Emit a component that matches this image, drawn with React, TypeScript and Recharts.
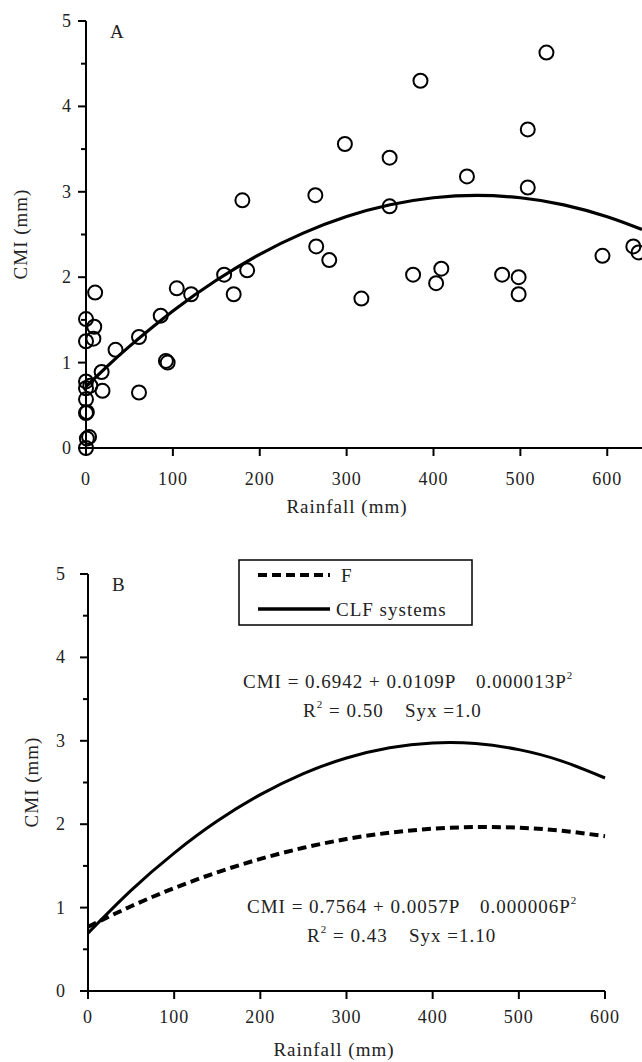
import { ComposedChart, Customized, Line, Scatter, XAxis, YAxis } from 'recharts';

// panel A: observed points
const rainA = [0, 1, 3.5, 0, 1, 0, 0, 0, 5, 18, 19, 0, 8.5, 0, 9.5, 10.5, 34, 61, 61, 86, 92, 94, 104.5, 121, 159, 170, 185.5, 180, 265, 264, 280, 298, 317, 349.5, 349.5, 376.5, 385, 403, 409, 438.5, 479, 498, 498, 508.5, 508.5, 530, 594.5, 630, 636];
const cmiA = [0, 0.11, 0.13, 0.41, 0.42, 0.57, 0.7, 0.78, 0.73, 0.89, 0.67, 1.25, 1.28, 1.51, 1.42, 1.82, 1.15, 1.3, 0.65, 1.55, 1.02, 1.0, 1.87, 1.8, 2.03, 1.8, 2.08, 2.9, 2.36, 2.96, 2.2, 3.56, 1.75, 3.4, 2.83, 2.03, 4.3, 1.93, 2.1, 3.18, 2.03, 2.0, 1.8, 3.73, 3.05, 4.63, 2.25, 2.36, 2.29];

// panel A: fitted curve
const fitAX = [0, 25, 50, 100, 150, 200, 250, 300, 350, 400, 450, 500, 550, 600, 640];
const fitAY = [0.72, 0.962, 1.19, 1.604, 1.964, 2.268, 2.516, 2.71, 2.848, 2.93, 2.958, 2.93, 2.847, 2.708, 2.558];

// panel B: the two fitted curves
const fitBX = [0, 50, 100, 150, 200, 250, 300, 350, 400, 450, 500, 550, 600];
const fY = [0.77, 1.016, 1.234, 1.423, 1.584, 1.717, 1.822, 1.898, 1.946, 1.966, 1.958, 1.921, 1.856];
const clfY = [0.694, 1.207, 1.654, 2.037, 2.354, 2.607, 2.794, 2.917, 2.974, 2.967, 2.894, 2.757, 2.554];

const xTicks = [0, 100, 200, 300, 400, 500, 600];
const yTicks = [0, 0.5, 1, 1.5, 2, 2.5, 3, 3.5, 4, 4.5, 5];

const pointsA = rainA.map((x, i) => ({ x, y: cmiA[i] }));
const curveA = fitAX.map((x, i) => ({ x, y: fitAY[i] }));
const curveF = fitBX.map((x, i) => ({ x, y: fY[i] }));
const curveCLF = fitBX.map((x, i) => ({ x, y: clfY[i] }));

const FONT = '"Liberation Serif", "Times New Roman", serif';
const INK = '#222';
const B_TOP = 530;

const yTick = (axisX: number, gap: number) => (props: any) => {
  const { y, payload } = props;
  const v = payload.value;
  const major = Number.isInteger(v);
  return (
    <g>
      <line x1={axisX - (major ? 8 : 5)} x2={axisX} y1={y} y2={y} stroke="#000" strokeWidth={2} />
      {major && (
        <text x={axisX - gap} y={y + 6} textAnchor="end" fontFamily={FONT} fontSize={18} fill={INK} letterSpacing={1}>
          {v}
        </text>
      )}
    </g>
  );
};

const xTick = (axisY: number, base: number) => (props: any) => {
  const { x, payload } = props;
  return (
    <g>
      <line x1={x} x2={x} y1={axisY} y2={axisY + 8} stroke="#000" strokeWidth={2} />
      <text x={x} y={base} textAnchor="middle" fontFamily={FONT} fontSize={18} fill={INK} letterSpacing={1}>
        {payload.value}
      </text>
    </g>
  );
};

const ring = (p: any) => <circle cx={p.cx} cy={p.cy} r={7} fill="none" stroke="#000" strokeWidth={2} />;

const txt = { fontFamily: FONT, fontSize: 19, fill: INK, letterSpacing: 1 };

const AnnotA = () => (
  <g>
    <text x={110} y={38} {...txt}>A</text>
    <text x={347} y={513} textAnchor="middle" {...txt}>Rainfall (mm)</text>
    <text transform="translate(20,234) rotate(-90)" textAnchor="middle" dominantBaseline="central" {...txt}>CMI (mm)</text>
  </g>
);

const Eq = (props: { x: number; y: number; a: string; b: string; r2: string; syx: string }) => {
  const { x, y, a, b, r2, syx } = props;
  return (
    <g>
      <text x={x} y={y} {...txt}>
        {a}
        <tspan x={x + 233}>{b}</tspan>
        <tspan dy={-9} fontSize={11}>2</tspan>
      </text>
      <text x={x + 60} y={y + 29} {...txt}>
        R<tspan dy={-9} fontSize={11}>2</tspan>
        <tspan dy={9}>{' = ' + r2}</tspan>
        <tspan x={x + 162}>{syx}</tspan>
      </text>
    </g>
  );
};

const AnnotB = () => (
  <g>
    <text x={112} y={591 - B_TOP} {...txt}>B</text>
    <text x={334} y={1056 - B_TOP} textAnchor="middle" {...txt}>Rainfall (mm)</text>
    <text transform={`translate(31,${782 - B_TOP}) rotate(-90)`} textAnchor="middle" dominantBaseline="central" {...txt}>CMI (mm)</text>
    <rect x={239} y={560 - B_TOP} width={233} height={65} fill="#fff" stroke="#000" strokeWidth={1.5} />
    <line x1={258} x2={330} y1={575 - B_TOP} y2={575 - B_TOP} stroke="#000" strokeWidth={4} strokeDasharray="9 5" />
    <line x1={258} x2={330} y1={609 - B_TOP} y2={609 - B_TOP} stroke="#000" strokeWidth={3.5} />
    <text x={341} y={582 - B_TOP} {...txt}>F</text>
    <text x={336} y={616 - B_TOP} {...txt}>CLF systems</text>
    <Eq x={243} y={688 - B_TOP} a="CMI = 0.6942 + 0.0109P" b="0.000013P" r2="0.50" syx="Syx =1.0" />
    <Eq x={247} y={913 - B_TOP} a="CMI = 0.7564 + 0.0057P" b="0.000006P" r2="0.43" syx="Syx =1.10" />
  </g>
);

export default function App() {
  return (
    <div style={{ position: 'absolute', left: 0, top: 0, width: 642, height: 1062, background: '#fff' }}>
      <div style={{ position: 'absolute', left: 0, top: 0 }}>
        <ComposedChart width={642} height={530} margin={{ top: 21, right: 0, bottom: 22, left: 26 }}>
          <XAxis type="number" dataKey="x" domain={[0, 640]} ticks={xTicks} height={60}
            axisLine={{ stroke: '#000', strokeWidth: 2 }} tickLine={false} tick={xTick(448, 485)} />
          <YAxis type="number" dataKey="y" domain={[0, 5]} ticks={yTicks} width={60} interval={0}
            axisLine={{ stroke: '#000', strokeWidth: 2 }} tickLine={false} tick={yTick(86, 14)} />
          <Scatter data={pointsA} shape={ring} isAnimationActive={false} />
          <Line data={curveA} dataKey="y" type="natural" stroke="#000" strokeWidth={3.2} dot={false} isAnimationActive={false} />
          <Customized component={AnnotA} />
        </ComposedChart>
      </div>
      <div style={{ position: 'absolute', left: 0, top: B_TOP }}>
        <ComposedChart width={642} height={532} margin={{ top: 44, right: 37, bottom: 11, left: 28 }}>
          <XAxis type="number" dataKey="x" domain={[0, 600]} ticks={xTicks} height={60}
            axisLine={{ stroke: '#000', strokeWidth: 2 }} tickLine={false} tick={xTick(461, 493)} />
          <YAxis type="number" dataKey="y" domain={[0, 5]} ticks={yTicks} width={60} interval={0}
            axisLine={{ stroke: '#000', strokeWidth: 2 }} tickLine={false} tick={yTick(88, 22)} />
          <Line data={curveCLF} dataKey="y" type="natural" stroke="#000" strokeWidth={3} dot={false} isAnimationActive={false} />
          <Line data={curveF} dataKey="y" type="natural" stroke="#000" strokeWidth={4} strokeDasharray="9 5" dot={false} isAnimationActive={false} />
          <Customized component={AnnotB} />
        </ComposedChart>
      </div>
    </div>
  );
}
